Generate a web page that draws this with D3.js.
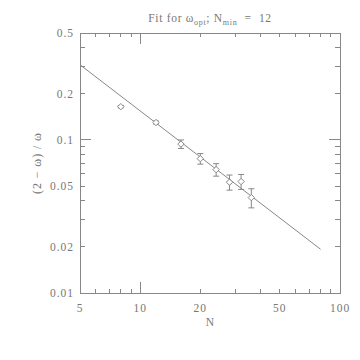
<!DOCTYPE html>
<html><head><meta charset="utf-8">
<script src="https://cdn.jsdelivr.net/npm/d3@7"></script>
<style>
html,body{margin:0;padding:0;background:#fff;}
text{font-family:"Liberation Serif","DejaVu Serif",serif;fill:#777;}
</style></head>
<body><svg id="c" width="360" height="360"></svg>
<script>
// data
const sizesN = [8, 12, 16, 20, 24, 28, 32, 36];
const values = [0.165, 0.130, 0.094, 0.0755, 0.064, 0.053, 0.0535, 0.042];
const errors = [0.003, 0.003, 0.006, 0.006, 0.006, 0.006, 0.006, 0.006];
const fitN = [5, 80];
const fitValues = [0.31, 0.0193];
const xTickLabels = [5, 10, 20, 50, 100];
const yTickLabels = [0.01, 0.02, 0.05, 0.1, 0.2, 0.5];

const svg = d3.select("#c");
const L = 80, R = 340, T = 33, B = 293;
const x = d3.scaleLog().domain([5, 100]).range([L, R]);
const y = d3.scaleLog().domain([0.01, 0.5]).range([B, T]);
const col = "#888";

// frame
svg.append("rect").attr("x", L).attr("y", T).attr("width", R - L).attr("height", B - T)
  .attr("fill", "none").attr("stroke", col).attr("stroke-width", 1).attr("shape-rendering", "crispEdges");

// ticks
const xMinor = [6,7,8,9,20,30,40,50,60,70,80,90];
const xMajor = [10];
const yMinor = [0.02,0.03,0.04,0.05,0.06,0.07,0.08,0.09,0.2,0.3,0.4];
const yMajor = [0.1];
const tg = svg.append("g").attr("stroke", col).attr("shape-rendering", "crispEdges");
function xt(v, len) {
  tg.append("line").attr("x1", x(v)).attr("x2", x(v)).attr("y1", B).attr("y2", B - len);
  tg.append("line").attr("x1", x(v)).attr("x2", x(v)).attr("y1", T).attr("y2", T + len);
}
function yt(v, len) {
  tg.append("line").attr("y1", y(v)).attr("y2", y(v)).attr("x1", L).attr("x2", L + len);
  tg.append("line").attr("y1", y(v)).attr("y2", y(v)).attr("x1", R).attr("x2", R - len);
}
xMinor.forEach(v => xt(v, 4)); xMajor.forEach(v => xt(v, 11));
yMinor.forEach(v => yt(v, 5)); yMajor.forEach(v => yt(v, 11));

// tick labels
svg.append("g").selectAll("text").data(xTickLabels).join("text")
  .attr("x", d => x(d)).attr("y", 312).attr("text-anchor", "middle")
  .attr("font-size", 11.5).attr("letter-spacing", 1).text(d => d);
svg.append("g").selectAll("text").data(yTickLabels).join("text")
  .attr("x", 74).attr("y", d => y(d) + 4).attr("text-anchor", "end")
  .attr("font-size", 11.5).attr("letter-spacing", 1).text(d => d);

// axis titles
svg.append("text").attr("x", (L + R) / 2).attr("y", 326).attr("text-anchor", "middle")
  .attr("font-size", 11.5).text("N");
svg.append("text").attr("transform", `translate(41,${(T + B) / 2}) rotate(-90)`)
  .attr("text-anchor", "middle").attr("font-size", 12).attr("letter-spacing", 0.9)
  .text("(2 \u2212 \u03c9) / \u03c9");
const title = svg.append("text").attr("x", 210).attr("y", 22).attr("text-anchor", "middle")
  .attr("font-size", 11.5).attr("letter-spacing", 0.7);
title.append("tspan").text("Fit for \u03c9");
title.append("tspan").attr("dy", 3).attr("font-size", 8).text("opt");
title.append("tspan").attr("dy", -3).text("; N");
title.append("tspan").attr("dy", 3).attr("font-size", 8).text("min");
title.append("tspan").attr("dy", -3).text("  =  12").attr("xml:space", "preserve");

// fit line
svg.append("path").datum(fitN.map((n, i) => [n, fitValues[i]]))
  .attr("d", d3.line().x(d => x(d[0])).y(d => y(d[1])))
  .attr("fill", "none").attr("stroke", col).attr("stroke-width", 1);

// points with error bars
const pts = sizesN.map((n, i) => ({n, v: values[i], e: errors[i]}));
const g = svg.append("g").attr("stroke", col).attr("fill", "none").attr("stroke-width", 1);
pts.forEach(p => {
  const cx = x(p.n), cy = y(p.v), y1 = y(p.v + p.e), y2 = y(p.v - p.e);
  g.append("line").attr("x1", cx).attr("x2", cx).attr("y1", y1).attr("y2", y2);
  g.append("line").attr("x1", cx - 3).attr("x2", cx + 3).attr("y1", y1).attr("y2", y1);
  g.append("line").attr("x1", cx - 3).attr("x2", cx + 3).attr("y1", y2).attr("y2", y2);
  g.append("path").attr("d", `M${cx},${cy - 3.2}L${cx + 3.2},${cy}L${cx},${cy + 3.2}L${cx - 3.2},${cy}Z`)
    .attr("fill", "#fff");
});
</script></body></html>
